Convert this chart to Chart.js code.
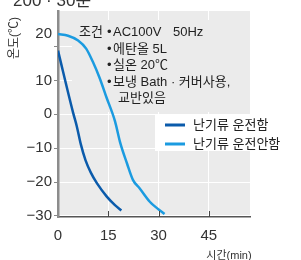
<!DOCTYPE html>
<html>
<head>
<meta charset="utf-8">
<script src="https://cdn.jsdelivr.net/npm/chart.js@4/dist/chart.umd.min.js"></script>
<style>
    html, body { margin: 0; padding: 0; background: #fff; }
    #wrap { position: relative; width: 301px; height: 260px; }
</style>
</head>
<body>
<div id="wrap"><canvas id="chart" width="301" height="260"></canvas></div>
<script>
const FONT = '"Liberation Sans", "Noto Sans CJK KR", sans-serif';

// 난기류 운전함 (min, ℃)
const runTime = [0, 4.5, 5.6, 6.8, 8.2, 9.8, 11.6, 14.5, 17, 18.9];
const runTemp = [18.8, 0.5, -3.5, -8.8, -13.5, -17.2, -20.3, -24.2, -26.8, -28.4];

// 난기류 운전안함 (min, ℃)
const offTime = [0, 3, 6, 8.4, 10.4, 12.4, 14.4, 17, 18.6, 20.6, 22.4, 24.4, 27.4, 31.8];
const offTemp = [23.7, 23.2, 21.8, 19.4, 15.5, 10.8, 5.2, -2, -8.5, -14.5, -19.4, -21.9, -25.8, -29.4];

const seriesLabels = ['난기류 운전함', '난기류 운전안함'];
const seriesColors = ['#0b5bab', '#1b9be0'];

const xTicks = [0, 15, 30, 45];
const yTicks = [-30, -20, -10, 0, 10, 20];
// the reference prints its "20" label a bit above the 20 gridline, at the start level of the curve
const topLabelAt = 23.7;

const noteTitle = '조건';
const noteLines = ['AC100V', '50Hz', '에탄올 5L', '실온 20℃', '보냉 Bath · 커버사용,', '교반있음'];

function toPoints(xs, ys) {
    return xs.map((x, i) => ({ x: x, y: ys[i] }));
}

function fmt(v) {
    return v < 0 ? '\u2212' + Math.abs(v) : String(v);
}

const decor = {
    id: 'decor',
    beforeDraw(chart) {
        const { ctx, chartArea: a } = chart;
        ctx.save();
        ctx.fillStyle = '#ebebeb';
        ctx.fillRect(a.left, a.top, a.right - a.left, a.bottom - a.top);
        ctx.restore();
    },
    beforeDatasetsDraw(chart) {
        const { ctx, chartArea: a } = chart;
        ctx.save();
        // note box hides the grid
        ctx.fillStyle = '#ebebeb';
        ctx.fillRect(72, 20, a.right - 72, 92);
        // legend box
        ctx.fillStyle = '#fff';
        ctx.fillRect(155, 114, 146, 37);
        ctx.restore();
    },
    afterDatasetsDraw(chart) {
        const { ctx, scales } = chart;
        const xs = scales.x;
        ctx.save();

        // inner x ticks
        ctx.strokeStyle = '#444';
        ctx.lineWidth = 1;
        xTicks.slice(1).forEach(v => {
            const px = Math.round(xs.getPixelForValue(v)) + 0.5;
            ctx.beginPath();
            ctx.moveTo(px, xs.top - 6);
            ctx.lineTo(px, xs.top);
            ctx.stroke();
        });

        // partly cut title at the top
        ctx.fillStyle = '#333';
        ctx.font = '17px ' + FONT;
        ctx.textBaseline = 'alphabetic';
        ctx.fillText('200 · 30분', 13, 6);

        // y title
        ctx.save();
        ctx.translate(15, 38);
        ctx.rotate(-Math.PI / 2);
        ctx.textAlign = 'center';
        ctx.textBaseline = 'middle';
        ctx.font = '12px ' + FONT;
        ctx.fillStyle = '#333';
        ctx.fillText('온도(℃)', 0, 0);
        ctx.restore();

        // x title
        ctx.textAlign = 'center';
        ctx.textBaseline = 'middle';
        ctx.font = '11px ' + FONT;
        ctx.fillText('시간(min)', 229, 256);

        // notes
        ctx.textAlign = 'left';
        ctx.font = '13px ' + FONT;
        ctx.fillStyle = '#222';
        ctx.fillText(noteTitle, 79, 32);
        ctx.fillText('•', 107, 32);
        ctx.fillText(noteLines[0], 113, 32);
        ctx.fillText(noteLines[1], 173, 32);
        ctx.fillText('•', 107, 49);
        ctx.fillText(noteLines[2], 113, 49);
        ctx.fillText('•', 107, 65);
        ctx.fillText(noteLines[3], 113, 65);
        ctx.fillText('•', 107, 82);
        ctx.fillText(noteLines[4], 113, 82);
        ctx.fillText(noteLines[5], 118, 98);

        // legend
        const rows = [125, 144];
        rows.forEach((y, i) => {
            ctx.strokeStyle = seriesColors[i];
            ctx.lineWidth = 3;
            ctx.beginPath();
            ctx.moveTo(165, y);
            ctx.lineTo(185, y);
            ctx.stroke();
            ctx.fillStyle = '#222';
            ctx.fillText(seriesLabels[i], 193, y);
        });
        ctx.restore();
    }
};

new Chart(document.getElementById('chart'), {
    type: 'line',
    data: {
        datasets: [
            {
                label: seriesLabels[0],
                data: toPoints(runTime, runTemp),
                borderColor: seriesColors[0],
                borderWidth: 2.5,
                pointRadius: 0,
                cubicInterpolationMode: 'monotone',
                fill: false
            },
            {
                label: seriesLabels[1],
                data: toPoints(offTime, offTemp),
                borderColor: seriesColors[1],
                borderWidth: 2.5,
                pointRadius: 0,
                cubicInterpolationMode: 'monotone',
                fill: false
            }
        ]
    },
    options: {
        responsive: false,
        animation: false,
        layout: { padding: { top: 9, right: 51, left: 0, bottom: 0 } },
        plugins: {
            legend: { display: false },
            tooltip: { enabled: false }
        },
        scales: {
            x: {
                type: 'linear',
                min: 0,
                max: 57.3,
                afterBuildTicks: s => { s.ticks = xTicks.map(v => ({ value: v })); },
                afterFit: s => { s.height = 43; },
                grid: {
                    color: c => (c.tick && c.tick.value === 0) ? 'rgba(0,0,0,0)' : '#fff',
                    lineWidth: 1,
                    drawTicks: false
                },
                border: { color: '#555', width: 1.5 },
                ticks: {
                    color: '#333',
                    padding: 10,
                    maxRotation: 0,
                    font: { family: FONT, size: 15 }
                }
            },
            y: {
                type: 'linear',
                min: -30.3,
                max: 30.5,
                afterBuildTicks: s => {
                    s.ticks = yTicks.map(v => ({ value: v })).concat([{ value: topLabelAt }]);
                },
                afterFit: s => { s.width = 58; },
                grid: {
                    color: c => (c.tick && c.tick.value === topLabelAt) ? 'rgba(0,0,0,0)' : '#fff',
                    tickColor: c => (c.tick && c.tick.value === topLabelAt) ? 'rgba(0,0,0,0)' : '#888',
                    tickLength: 4,
                    lineWidth: 1
                },
                border: { color: '#8c8c8c', width: 2.5 },
                ticks: {
                    color: '#333',
                    padding: 2,
                    font: { family: FONT, size: 15 },
                    callback: v => v === topLabelAt ? '20' : (v === 20 ? '' : fmt(v))
                }
            }
        }
    },
    plugins: [decor]
});
</script>
</body>
</html>
